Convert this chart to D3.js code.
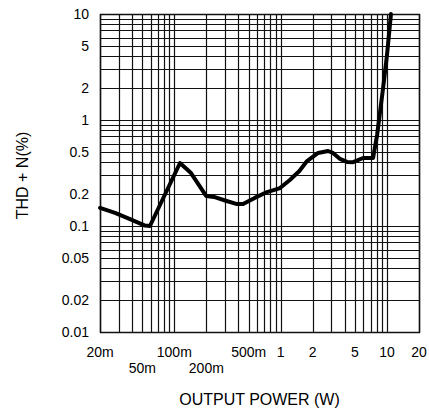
<!DOCTYPE html>
<html>
<head>
<meta charset="utf-8">
<script src="https://cdn.jsdelivr.net/npm/d3@7/dist/d3.min.js"></script>
<style>
html,body{margin:0;padding:0;background:#fff;}
svg{display:block;}
text{font-family:"Liberation Sans",Arial,sans-serif;fill:#000;}
</style>
</head>
<body>
<svg id="chart" width="429" height="411"></svg>
<script>
// Data
const powerW = [0.02, 0.0277, 0.0383, 0.053, 0.059, 0.113, 0.1435, 0.199, 0.236, 0.30, 0.389, 0.443, 0.57, 0.745, 0.986, 1.22, 1.5, 1.77, 2.25, 2.79, 3.1, 3.6, 4.21, 4.8, 5.96, 7.4, 8.07, 9.19, 10.0, 10.9];
const thdPct = [0.148, 0.133, 0.116, 0.101, 0.1, 0.393, 0.316, 0.192, 0.188, 0.174, 0.161, 0.161, 0.184, 0.209, 0.228, 0.272, 0.33, 0.41, 0.489, 0.51, 0.489, 0.43, 0.402, 0.40, 0.438, 0.438, 0.72, 2.0, 4.1, 10.0];
const xTickVals = [0.02, 0.05, 0.1, 0.2, 0.5, 1, 2, 5, 10, 20];
const xTickLabels = ["20m", "50m", "100m", "200m", "500m", "1", "2", "5", "10", "20"];
const xTickRow = [0, 1, 0, 1, 0, 0, 0, 0, 0, 0];
const yTickVals = [0.01, 0.02, 0.05, 0.1, 0.2, 0.5, 1, 2, 5, 10];
const yTickLabels = ["0.01", "0.02", "0.05", "0.1", "0.2", "0.5", "1", "2", "5", "10"];

const svg = d3.select("#chart");
const L = 100, R = 419, T = 14, B = 332;
const x = d3.scaleLog().domain([0.02, 20]).range([L, R]);
const y = d3.scaleLog().domain([0.01, 10]).range([B, T]);

const g = svg.append("g");
const snap = v => Math.round(v) + 0.5;

// vertical grid
const xGrid = x.ticks().filter(v => v >= 0.02 - 1e-9 && v <= 20 + 1e-9);
g.selectAll("line.vx").data(xGrid).enter().append("line")
  .attr("x1", d => snap(x(d))).attr("x2", d => snap(x(d)))
  .attr("y1", T).attr("y2", B)
  .attr("stroke", "#111").attr("stroke-width", 1.2);

// horizontal grid
const yGrid = y.ticks();
g.selectAll("line.hy").data(yGrid).enter().append("line")
  .attr("y1", d => snap(y(d))).attr("y2", d => snap(y(d)))
  .attr("x1", L).attr("x2", R)
  .attr("stroke", "#111").attr("stroke-width", 1.2);

// border
g.append("rect").attr("x", L + 0.5).attr("y", T + 0.5)
  .attr("width", R - L).attr("height", B - T)
  .attr("fill", "none").attr("stroke", "#111").attr("stroke-width", 1.5);

// curve
const line = d3.line().x((d, i) => x(powerW[i])).y((d, i) => y(thdPct[i])).curve(d3.curveLinear);
g.append("path").datum(thdPct).attr("d", line)
  .attr("fill", "none").attr("stroke", "#000").attr("stroke-width", 4)
  .attr("stroke-linejoin", "round").attr("stroke-linecap", "round");

// y tick labels
svg.selectAll("text.yt").data(yTickVals).enter().append("text")
  .attr("x", 89).attr("y", d => y(d)).attr("dy", "0.35em")
  .attr("text-anchor", "end").attr("font-size", 14)
  .text((d, i) => yTickLabels[i]);

// x tick labels
svg.selectAll("text.xt").data(xTickVals).enter().append("text")
  .attr("x", d => x(d)).attr("y", (d, i) => xTickRow[i] ? 373 : 357)
  .attr("text-anchor", "middle").attr("font-size", 14)
  .text((d, i) => xTickLabels[i]);

// axis titles
svg.append("text").attr("x", 259.5).attr("y", 405).attr("text-anchor", "middle")
  .attr("font-size", 16).text("OUTPUT POWER (W)");
svg.append("text").attr("transform", "translate(28,175.5) rotate(-90)")
  .attr("text-anchor", "middle").attr("font-size", 16).text("THD + N(%)");
</script>
</body>
</html>
